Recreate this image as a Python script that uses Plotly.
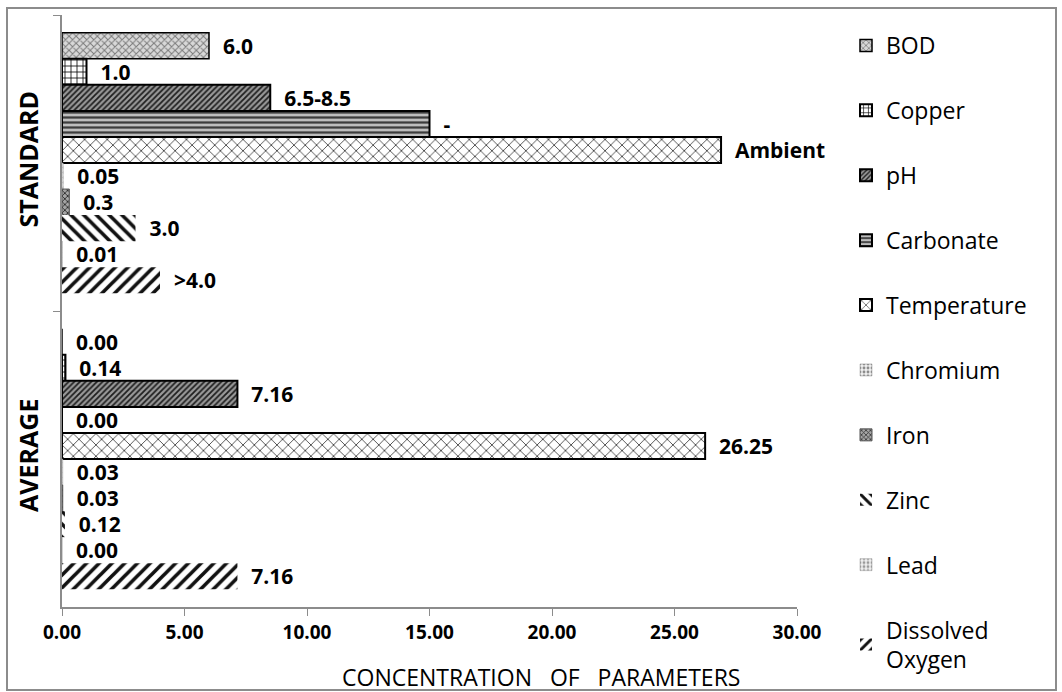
import plotly.graph_objects as go

# Groups on the category axis (top to bottom)
groups = ["STANDARD", "AVERAGE"]

# Parameters, in the order they are stacked inside each group
parameters = ["BOD", "Copper", "pH", "Carbonate", "Temperature",
              "Chromium", "Iron", "Zinc", "Lead", "Dissolved<br>Oxygen"]

# Bar lengths per parameter: [standard, average]
standard_values = [6.0, 1.0, 8.5, 15.0, 26.9, 0.05, 0.3, 3.0, 0.01, 4.0]
average_values = [0.00, 0.14, 7.16, 0.00, 26.25, 0.03, 0.03, 0.12, 0.00, 7.16]

# Printed labels per parameter: [standard, average]
standard_labels = ["6.0", "1.0", "6.5-8.5", "-", "Ambient",
                   "0.05", "0.3", "3.0", "0.01", ">4.0"]
average_labels = ["0.00", "0.14", "7.16", "0.00", "26.25",
                  "0.03", "0.03", "0.12", "0.00", "7.16"]

x_ticks = [0, 5, 10, 15, 20, 25, 30]

# Monochrome fill patterns, one per parameter
styles = [
    dict(shape="x", fg="#7a7a7a", bg="#d8d8d8", size=5, sol=0.35, line="#000000", lw=1.5),
    dict(shape="+", fg="#000000", bg="#ffffff", size=6, sol=0.25, line="#000000", lw=2),
    dict(shape="/", fg="#1e1e1e", bg="#9a9a9a", size=4, sol=0.45, line="#000000", lw=2),
    dict(shape="-", fg="#3c3c3c", bg="#bdbdbd", size=5, sol=0.45, line="#000000", lw=2),
    dict(shape="x", fg="#3a3a3a", bg="#ffffff", size=8, sol=0.2, line="#000000", lw=2),
    dict(shape=".", fg="#8a8a8a", bg="#efefef", size=5, sol=0.4, line="#9a9a9a", lw=0.5),
    dict(shape="x", fg="#2a2a2a", bg="#a5a5a5", size=4, sol=0.4, line="#555555", lw=1),
    dict(shape="\\", fg="#111111", bg="#ffffff", size=9, sol=0.4, line="rgba(0,0,0,0)", lw=0),
    dict(shape=".", fg="#9a9a9a", bg="#efefef", size=5, sol=0.4, line="#9a9a9a", lw=0.5),
    dict(shape="/", fg="#111111", bg="#ffffff", size=9, sol=0.4, line="rgba(0,0,0,0)", lw=0),
]

FONT = "Open Sans"

fig = go.Figure()
for i, name in enumerate(parameters):
    st = styles[i]
    fig.add_trace(go.Bar(
        name=name,
        legendgroup=f"g{i}",
        orientation="h",
        y=groups,
        x=[standard_values[i], average_values[i]],
        text=[standard_labels[i], average_labels[i]],
        texttemplate="  %{text}",
        textposition="outside",
        constraintext="none",
        cliponaxis=False,
        textfont=dict(family=FONT, size=21, color="#000000", weight="bold"),
        marker=dict(
            color=st["bg"],
            line=dict(color=st["line"], width=st["lw"]),
            pattern=dict(shape=st["shape"], fgcolor=st["fg"], bgcolor=st["bg"],
                         size=st["size"], solidity=st["sol"], fillmode="replace"),
        ),
    ))

# Pixel helpers for the plot box
L, T, W, H = 62, 15, 735, 592
def px(x):
    return (x - L) / W
def py(y):
    return (T + H - y) / H

# Outer frame around the whole graphic
fig.add_shape(type="rect", xref="paper", yref="paper",
              x0=px(7), x1=px(1056), y0=py(690), y1=py(8),
              line=dict(color="#8c8c8c", width=2), fillcolor="rgba(0,0,0,0)", layer="below")

# Value-axis title
fig.add_annotation(xref="paper", yref="paper", x=px(541), y=py(677),
                   xanchor="center", yanchor="middle", showarrow=False,
                   text="CONCENTRATION\u00a0\u00a0\u00a0OF\u00a0\u00a0\u00a0PARAMETERS",
                   font=dict(family=FONT, size=23, color="#000000"))

fig.update_layout(
    width=1062, height=692,
    margin=dict(l=L, r=1062 - L - W, t=T, b=692 - T - H),
    paper_bgcolor="#ffffff", plot_bgcolor="#ffffff",
    barmode="group", bargap=0.12, bargroupgap=0,
    font=dict(family=FONT, color="#000000"),
    showlegend=True,
    legend=dict(x=px(846), xanchor="left", y=py(24), yanchor="top",
                font=dict(family=FONT, size=23, color="#000000"),
                tracegroupgap=32, itemwidth=30, maxheight=680,
                bgcolor="rgba(0,0,0,0)"),
    xaxis=dict(range=[0, 30], tickvals=x_ticks, tickformat=".2f",
               ticks="outside", ticklen=7, tickcolor="#8c8c8c",
               showline=True, linecolor="#8c8c8c", linewidth=1.5,
               showgrid=False, zeroline=False,
               tickfont=dict(family=FONT, size=19, weight="bold")),
    yaxis=dict(categoryorder="array", categoryarray=groups, autorange="reversed",
               tickson="boundaries", ticks="outside", ticklen=7, tickcolor="#8c8c8c",
               showline=True, linecolor="#8c8c8c", linewidth=1.5,
               showgrid=False, zeroline=False, tickangle=-90,
               ticklabelstandoff=12,
               tickfont=dict(family=FONT, size=25, weight="bold")),
)

fig.write_html("out.html")
